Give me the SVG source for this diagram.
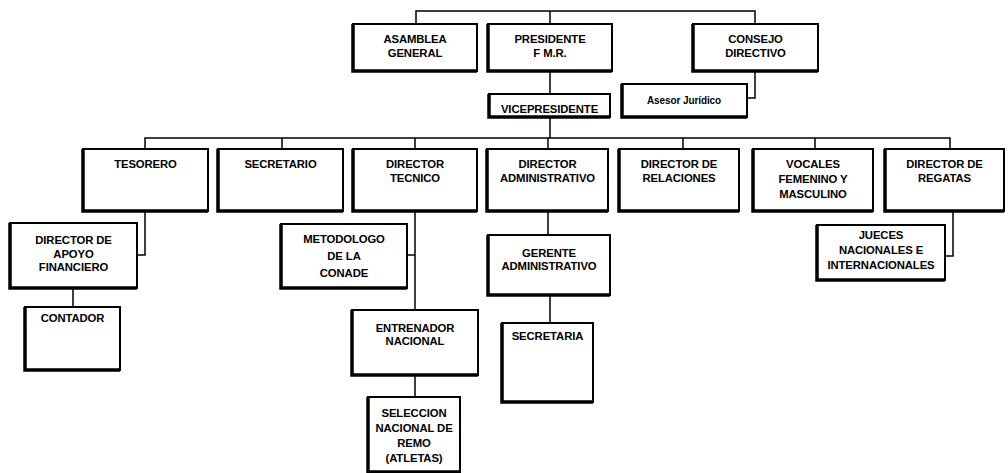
<svg xmlns="http://www.w3.org/2000/svg" width="1008" height="473" viewBox="0 0 1008 473">
<style>
.box{fill:#fff;stroke:#000;stroke-width:2}
.sh{fill:none;stroke:#000;stroke-width:3.5}
.ln{fill:none;stroke:#000;stroke-width:1.5}
text{font-family:"Liberation Sans",Arial,sans-serif;font-weight:bold;font-size:11.3px;text-anchor:middle;fill:#000;letter-spacing:-0.1px}
.sm{font-size:10px}
</style>
<rect width="1008" height="473" fill="#fff"/>
<g id="connectors">
<path class="ln" d="M416,24 V11 H755 V24"/>
<path class="ln" d="M550,11 V24 M550,71 V94 M550,117 V138"/>
<path class="ln" d="M755,71 V98 H747"/>
<path class="ln" d="M145,149 V138 H950 V149 M282,138 V149 M415,138 V149 M548,138 V149 M683,138 V149 M815,138 V149"/>
<path class="ln" d="M145,211 V255 H137"/>
<path class="ln" d="M73,288 V307"/>
<path class="ln" d="M415,211 V310 M415,255 H407 M415,375 V397"/>
<path class="ln" d="M548,211 V235 M550,295 V323"/>
<path class="ln" d="M953,211 V256 H945"/>
</g>
<g id="asamblea"><rect class="box" x="353" y="24" width="124" height="47"/><path class="sh" d="M353,24 V71 H477"/><text x="415" y="42.5">ASAMBLEA</text><text x="415" y="56.5">GENERAL</text></g>
<g id="presidente"><rect class="box" x="488" y="24" width="124" height="47"/><path class="sh" d="M488,24 V71 H612"/><text x="550" y="42.5">PRESIDENTE</text><text x="550" y="56.5">F M.R.</text></g>
<g id="consejo"><rect class="box" x="693" y="24" width="125" height="47"/><path class="sh" d="M693,24 V71 H818"/><text x="755.5" y="42.5">CONSEJO</text><text x="755.5" y="56.5">DIRECTIVO</text></g>
<g id="vicepresidente"><rect class="box" x="489" y="94" width="121" height="23"/><path class="sh" d="M489,94 V117 H610"/><text x="549.5" y="113">VICEPRESIDENTE</text></g>
<g id="asesor"><rect class="box" x="622" y="84" width="125" height="33"/><path class="sh" d="M622,84 V117 H747"/><text class="sm" x="684" y="104">Asesor Jurídico</text></g>
<g id="tesorero"><rect class="box" x="83" y="149" width="125" height="62"/><path class="sh" d="M83,149 V211 H208"/><text x="145.5" y="167.5">TESORERO</text></g>
<g id="secretario"><rect class="box" x="218" y="149" width="125" height="62"/><path class="sh" d="M218,149 V211 H343"/><text x="280.5" y="167.5">SECRETARIO</text></g>
<g id="director-tecnico"><rect class="box" x="353" y="149" width="124" height="62"/><path class="sh" d="M353,149 V211 H477"/><text x="415" y="167.5">DIRECTOR</text><text x="415" y="181.5">TECNICO</text></g>
<g id="director-administrativo"><rect class="box" x="487" y="149" width="121" height="62"/><path class="sh" d="M487,149 V211 H608"/><text x="547.5" y="167.5">DIRECTOR</text><text x="547.5" y="181.5">ADMINISTRATIVO</text></g>
<g id="director-relaciones"><rect class="box" x="619" y="149" width="120" height="62"/><path class="sh" d="M619,149 V211 H739"/><text x="679" y="167.5">DIRECTOR DE</text><text x="679" y="181.5">RELACIONES</text></g>
<g id="vocales"><rect class="box" x="753" y="149" width="120" height="62"/><path class="sh" d="M753,149 V211 H873"/><text x="813" y="167.5">VOCALES</text><text x="813" y="182.5">FEMENINO Y</text><text x="813" y="197.5">MASCULINO</text></g>
<g id="director-regatas"><rect class="box" x="885" y="149" width="119" height="62"/><path class="sh" d="M885,149 V211 H1004"/><text x="944.5" y="167.5">DIRECTOR DE</text><text x="944.5" y="181.5">REGATAS</text></g>
<g id="director-apoyo"><rect class="box" x="10" y="223" width="127" height="65"/><path class="sh" d="M10,223 V288 H137"/><text x="73.5" y="244">DIRECTOR DE</text><text x="73.5" y="257.5">APOYO</text><text x="73.5" y="271">FINANCIERO</text></g>
<g id="contador"><rect class="box" x="25" y="307" width="95" height="63"/><path class="sh" d="M25,307 V370 H120"/><text x="72.5" y="322">CONTADOR</text></g>
<g id="metodologo"><rect class="box" x="281" y="224" width="126" height="64"/><path class="sh" d="M281,224 V288 H407"/><text x="344" y="243">METODOLOGO</text><text x="344" y="260">DE LA</text><text x="344" y="276.5">CONADE</text></g>
<g id="entrenador"><rect class="box" x="352" y="310" width="126" height="65"/><path class="sh" d="M352,310 V375 H478"/><text x="415" y="331.5">ENTRENADOR</text><text x="415" y="345">NACIONAL</text></g>
<g id="seleccion"><rect class="box" x="368" y="397" width="92" height="75"/><path class="sh" d="M368,397 V472 H460"/><text x="414" y="416.5">SELECCION</text><text x="414" y="431.5">NACIONAL DE</text><text x="414" y="446.5">REMO</text><text x="414" y="461.5">(ATLETAS)</text></g>
<g id="gerente"><rect class="box" x="488" y="235" width="122" height="60"/><path class="sh" d="M488,235 V295 H610"/><text x="549" y="256.5">GERENTE</text><text x="549" y="270">ADMINISTRATIVO</text></g>
<g id="secretaria"><rect class="box" x="502" y="323" width="91" height="79"/><path class="sh" d="M502,323 V402 H593"/><text x="547.5" y="340">SECRETARIA</text></g>
<g id="jueces"><rect class="box" x="817" y="225" width="128" height="55"/><path class="sh" d="M817,225 V280 H945"/><text x="881" y="239">JUECES</text><text x="881" y="254">NACIONALES E</text><text x="881" y="269">INTERNACIONALES</text></g>
</svg>
